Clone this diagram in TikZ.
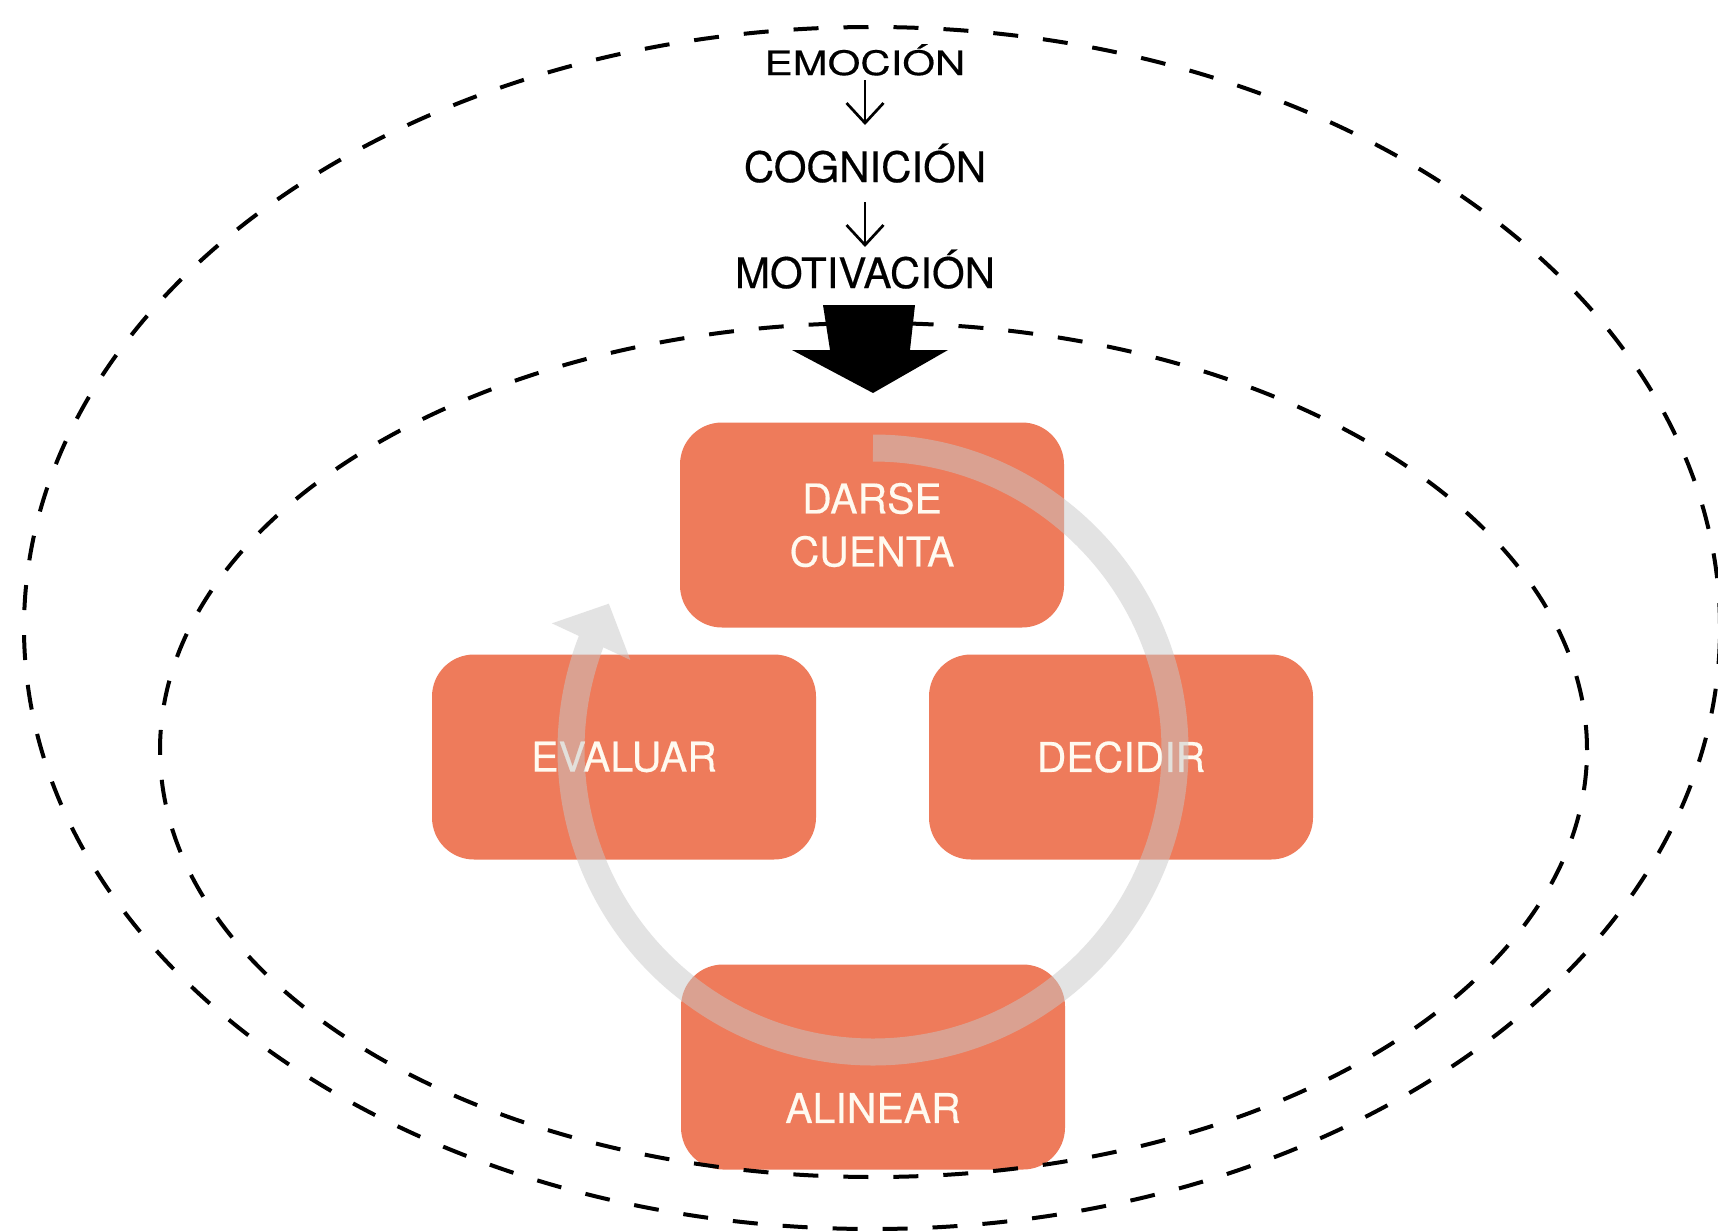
\documentclass[tikz,border=0pt]{standalone}
\usepackage{fontspec}
\setmainfont{TeX Gyre Heros}[FakeBold=0.35]
\usetikzlibrary{arrows.meta,bending}

\definecolor{boxfill}{RGB}{238,123,91}
\definecolor{boxtext}{RGB}{255,250,240}
\definecolor{cyclegray}{RGB}{200,200,200}

\begin{document}
\begin{tikzpicture}[x=0.5pt,y=0.5pt,
  stagebox/.style={rectangle, rounded corners=21pt, fill=boxfill,
    minimum width=192pt, minimum height=102.5pt, inner sep=0pt,
    text=boxtext, align=center, font=\fontsize{20.5}{26.5}\selectfont},
  stagelabel/.style={text=boxtext, inner sep=0pt, anchor=base,
    font=\fontsize{20.5}{26.5}\selectfont},
  flowtext/.style={font=\fontsize{21}{25}\selectfont, text=black,
    inner sep=0pt, anchor=base},
  flowarrow/.style={line width=1.35pt, -{Straight Barb[length=10pt,width=18.5pt]}},
  zone/.style={draw=black, line width=2pt, dash pattern=on 12.5pt off 12.5pt},
  cycleband/.style={draw=cyclegray, line width=13.5pt,
    -{Triangle[length=21pt,width=42pt,flex]}}
]
% canvas
\fill[white] (0,0) rectangle (1718,-1231);
\useasboundingbox (0,0) rectangle (1718,-1231);

% chain of inner processes
\node[flowtext] (emo) at (865,-75) {\scalebox{1}[0.8]{EMOCIÓN}};
\node[flowtext] (cog) at (865,-182) {COGNICIÓN};
\node[flowtext] (mot) at (865,-288) {MOTIVACIÓN};
\draw[flowarrow] ([yshift=-2.5pt]emo.base) -- ([yshift=28.5pt]cog.base);
\draw[flowarrow] ([yshift=-10pt]cog.base) -- ([yshift=20.5pt]mot.base);

% the four stages
\node[stagebox] (darse) at (872,-525) {DARSE\\CUENTA};
\node[stagebox] (evaluar) at (624,-757) {EVALUAR};
\node[stagebox] (decidir) at (1121,-757) {DECIDIR};
\node[stagebox, label={[stagelabel, yshift=-20.5pt]center:ALINEAR}] (alinear) at (873,-1067) {};

% dashed zones
\draw[zone] (872,-628) ellipse [x radius=848, y radius=601];
\draw[zone] (873.5,-750) ellipse [x radius=713.5, y radius=427];

% thick arrow from the chain into the cycle
\fill[black] (823,-305) -- (915,-305) -- (910,-350) -- (948,-350)
  -- (873,-393) -- (792,-350) -- (830,-350) -- cycle;

% translucent cycle arrow over the stages
\begin{scope}[transparency group, opacity=0.5]
  \draw[cycleband] (873,-448) arc[start angle=90, end angle=-209, radius=302];
\end{scope}
\end{tikzpicture}
\end{document}
